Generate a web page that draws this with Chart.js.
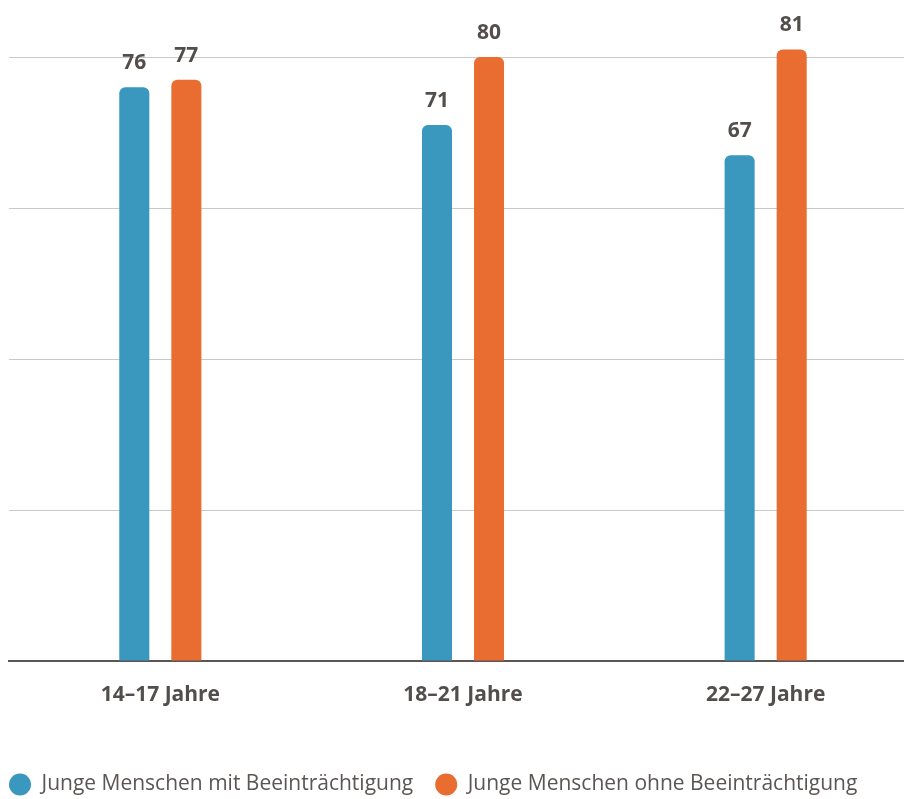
<!DOCTYPE html>
<html>
<head>
<meta charset="utf-8">
<script src="https://cdn.jsdelivr.net/npm/chart.js@4"></script>
<style>
  html, body { margin: 0; padding: 0; background: #fff; overflow: hidden; }
  #wrap { width: 917px; height: 799px; position: relative; }
</style>
</head>
<body>
<div id="wrap"><canvas id="jobChart"></canvas></div>
<script>
// data
const categories = ["14–17 Jahre", "18–21 Jahre", "22–27 Jahre"];
const withImpairment = [76, 71, 67];
const withoutImpairment = [77, 80, 81];
const seriesNames = ["Junge Menschen mit Beeinträchtigung", "Junge Menschen ohne Beeinträchtigung"];
const yTicks = [0, 20, 40, 60, 80];

const textColor = "#524e4b";

// draw the value above each bar
const valueLabels = {
  id: "valueLabels",
  afterDatasetsDraw(chart) {
    const ctx = chart.ctx;
    ctx.save();
    ctx.font = "bold 21px 'Open Sans'";
    ctx.fillStyle = textColor;
    ctx.textAlign = "center";
    ctx.textBaseline = "alphabetic";
    chart.data.datasets.forEach((ds, i) => {
      chart.getDatasetMeta(i).data.forEach((bar, j) => {
        ctx.fillText(ds.data[j], bar.x, bar.y - 18);
      });
    });
    ctx.restore();
  },
};

const ctx = document.getElementById("jobChart").getContext("2d");
new Chart(ctx, {
  type: "bar",
  data: {
    labels: categories,
    datasets: [
      {
        label: seriesNames[0],
        data: withImpairment,
        backgroundColor: "#3a97bd",
        borderRadius: 6,
        borderSkipped: "start",
      },
      {
        label: seriesNames[1],
        data: withoutImpairment,
        backgroundColor: "#e96d30",
        borderRadius: 6,
        borderSkipped: "start",
      },
    ],
  },
  options: {
    responsive: true,
    maintainAspectRatio: false,
    animation: false,
    clip: false,
    categoryPercentage: 0.344,
    barPercentage: 0.577,
    layout: {
      padding: { top: 57, left: -13, right: 0, bottom: -6 },
    },
    scales: {
      x: {
        grid: { display: false },
        border: { display: true, color: "#5a5653", width: 2 },
        ticks: {
          color: textColor,
          font: { family: "'Open Sans'", size: 21, weight: "bold" },
          padding: 13,
        },
        afterFit: (scale) => { scale.height = 91; },
      },
      y: {
        min: 0,
        max: 80,
        afterBuildTicks: (scale) => { scale.ticks = yTicks.map((v) => ({ value: v })); },
        ticks: { display: false },
        border: { display: false },
        grid: {
          drawTicks: false,
          color: (c) => (c.tick && c.tick.value === 0 ? "transparent" : "#c9c9c9"),
          lineWidth: 1,
        },
        afterFit: (scale) => { scale.width = 22; },
      },
    },
    plugins: {
      legend: {
        position: "bottom",
        align: "start",
        labels: {
          usePointStyle: true,
          pointStyle: "circle",
          pointStyleWidth: 22,
          boxHeight: 15.6,
          padding: 22,
          color: "#5a5654",
          font: { family: "'Open Sans'", size: 21 },
        },
      },
      tooltip: { enabled: false },
    },
  },
  plugins: [valueLabels],
});
</script>
</body>
</html>
